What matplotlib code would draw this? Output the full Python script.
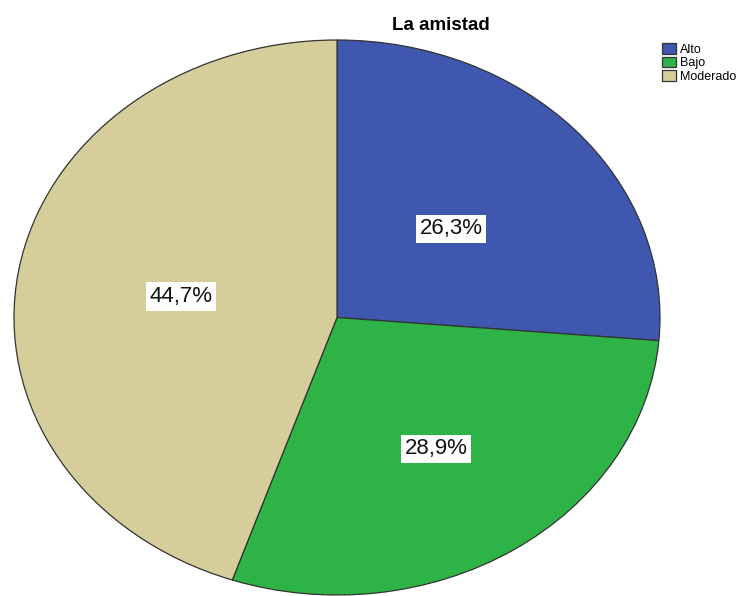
import numpy as np
import matplotlib.pyplot as plt

# data
labels = ["Alto", "Bajo", "Moderado"]
values = [26.3, 28.9, 44.7]
pct_text = ["26,3%", "28,9%", "44,7%"]
colors = ["#3F57AE", "#2EB446", "#D5CD9A"]
label_dist = [0.48, 0.56, 0.49]

fig = plt.figure(figsize=(7.49, 5.96), dpi=100)
ax = fig.add_axes([14 / 749, 1 / 596, 646 / 749, 555 / 596])

wedges, _ = ax.pie(
    values,
    colors=colors,
    startangle=90,
    counterclock=False,
    wedgeprops=dict(edgecolor="#333333", linewidth=0.9),
)
ax.set_aspect("auto")
ax.set_xlim(-1, 1)
ax.set_ylim(-1, 1)
ax.axis("off")

# percentage labels in white boxes
for w, txt, d in zip(wedges, pct_text, label_dist):
    ang = np.deg2rad((w.theta1 + w.theta2) / 2)
    ax.text(d * np.cos(ang), d * np.sin(ang) - 0.005, txt,
            ha="center", va="center", fontsize=16,
            family="Liberation Sans", color="#111111",
            bbox=dict(facecolor="white", edgecolor="none", pad=2.5))

fig.text(441 / 749, 1 - 25 / 596, "La amistad", ha="center", va="center",
         fontsize=13.5, fontweight="bold", family="Liberation Sans")

fig.legend(wedges, labels, loc="upper left",
           bbox_to_anchor=(661 / 749, 1 - 42 / 596),
           frameon=False, handlelength=1.1, handleheight=0.95,
           handletextpad=0.3, labelspacing=0.05, borderpad=0.1,
           borderaxespad=0.0,
           prop={"family": "Liberation Sans", "size": 9})

fig.savefig("out.png", dpi=100)
